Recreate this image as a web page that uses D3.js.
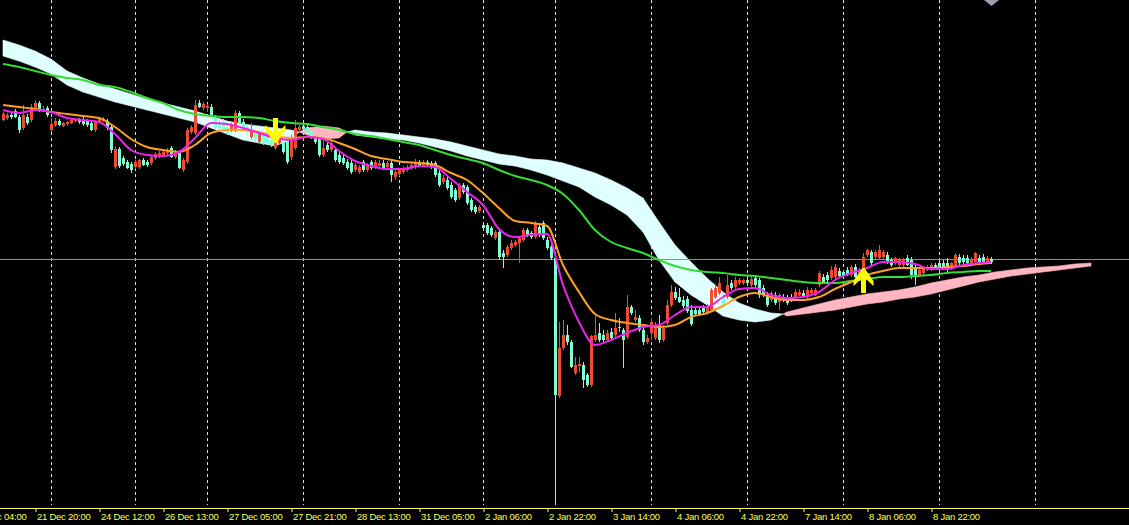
<!DOCTYPE html>
<html><head><meta charset="utf-8">
<script src="https://cdn.jsdelivr.net/npm/d3@7"></script>
<style>html,body{margin:0;padding:0;background:#000;overflow:hidden}</style>
</head><body><svg id="c" width="1129" height="525"></svg>
<script>
// ---------------- DATA (price in points) ----------------
// hourly candles [open, high, low, close], bar 0 = 21 Dec 12:00
const candles = [
[880,888,879,886],[882,887,880,885],[885,888,881,883],[889,891,882,883],[883,885,867,870],
[872,895,870,885],[883,886,875,877],[880,896,878,893],[892,900,890,897],[897,899,888,890],
[889,894,888,891],[892,894,883,885],[870,882,868,876],[875,882,873,879],[879,881,874,875],
[874,878,873,877],[876,879,874,878],[877,881,876,880],[879,881,878,880],[880,882,876,878],
[880,883,874,876],[879,881,873,875],[877,879,869,870],[870,880,868,878],[878,883,877,881],
[879,883,878,881],[879,881,870,872],[873,875,847,850],[833,854,831,851],[851,853,832,834],
[842,844,834,836],[838,840,831,832],[836,838,827,830],[833,840,831,838],[833,841,831,840],
[840,842,834,835],[838,840,833,835],[837,845,835,843],[842,848,840,846],[844,849,842,847],
[845,850,843,848],[847,852,845,850],[852,854,842,843],[843,850,841,848],[847,850,831,832],
[830,842,828,840],[838,872,836,870],[868,875,866,873],[867,900,865,895],[897,900,892,893],
[892,898,890,896],[892,896,888,894],[893,896,884,885],[882,885,870,872],[877,880,870,872],
[878,881,868,870],[872,875,865,867],[870,877,868,875],[870,890,868,887],[887,889,875,877],
[878,881,868,870],[873,875,866,868],[863,877,861,870],[867,870,858,860],[858,869,856,867],
[865,868,855,857],[863,866,855,857],[860,863,853,855],[852,861,850,858],[857,862,855,860],
[858,861,846,848],[860,862,836,838],[843,865,840,863],[852,880,850,872],[870,875,868,873],
[874,877,869,871],[873,876,865,867],[868,871,861,863],[863,866,856,858],[862,864,843,845],
[845,860,843,852],[855,857,848,850],[850,860,848,857],[850,853,838,840],[845,848,836,838],
[842,845,835,837],[838,841,830,832],[837,840,826,828],[830,837,828,835],[828,835,826,833],
[838,840,828,830],[830,837,828,835],[838,840,830,832],[833,840,831,838],[834,840,832,837],
[837,840,830,832],[833,839,831,837],[837,839,818,825],[823,830,820,828],[826,832,824,830],
[828,834,826,832],[830,835,828,833],[832,837,830,835],[833,841,831,838],[838,840,833,835],
[835,840,833,838],[838,840,833,835],[837,839,831,833],[837,839,823,825],[827,830,813,815],
[818,825,816,822],[820,823,810,812],[815,818,801,803],[810,812,798,800],[802,817,800,815],
[815,817,806,808],[813,815,795,797],[800,802,788,790],[793,795,786,788],[789,795,787,793],
[775,778,770,772],[775,777,765,767],[772,774,763,765],[762,770,760,768],[768,770,740,743],
[747,750,732,743],[745,755,743,753],[752,760,750,757],[755,760,753,758],[757,764,737,762],
[760,772,758,770],[770,772,763,765],[767,769,761,763],[763,779,761,777],[773,776,763,765],
[777,779,760,762],[760,763,750,752],[753,755,740,742],[742,744,470,605],[604,678,602,652],
[652,680,650,665],[665,675,655,658],[658,660,632,633],[627,643,625,635],[634,643,628,636],
[635,638,612,620],[625,627,613,615],[615,665,613,664],[660,685,658,665],[667,677,658,660],
[665,670,658,660],[660,670,658,667],[668,672,660,662],[665,687,663,672],[673,682,668,673],
[670,672,632,660],[663,705,661,693],[693,695,685,687],[680,690,678,683],[682,685,668,670],
[670,673,655,658],[658,665,656,662],[667,682,660,678],[662,678,660,675],[675,685,657,660],
[660,675,658,672],[677,700,675,695],[695,715,693,708],[708,713,700,702],[703,712,697,698],
[700,704,692,694],[701,704,687,689],[690,695,674,676],[690,694,684,686],[690,693,684,686],
[692,695,686,688],[687,696,685,693],[690,712,688,710],[703,716,701,712],[707,723,705,717],
[705,708,693,695],[703,725,701,715],[717,720,710,712],[713,723,711,720],[717,722,715,720],
[717,721,715,720],[720,723,714,717],[715,724,713,721],[722,725,713,715],[720,722,702,705],
[712,715,703,705],[705,708,693,695],[700,709,698,707],[705,708,695,697],[698,707,690,705],
[703,706,698,700],[702,705,695,697],[703,706,698,700],[702,711,700,708],[705,711,704,708],
[707,710,702,704],[703,713,701,710],[707,712,706,710],[705,712,704,710],[715,729,713,727],
[723,726,716,718],[725,728,718,720],[722,734,720,730],[723,736,721,733],[729,732,722,724],
[728,730,722,724],[730,733,724,725],[725,735,723,733],[733,736,722,723],[722,732,720,730],
[723,747,721,743],[745,751,743,750],[748,750,735,737],[743,750,741,748],[742,755,740,750],
[743,750,741,748],[745,748,736,738],[740,742,733,735],[737,743,735,742],[735,742,732,740],
[735,742,733,740],[742,745,734,735],[740,743,721,725],[732,735,715,723],[725,732,723,730],
[727,734,725,732],[730,735,729,733],[730,737,729,735],[735,737,730,732],[737,740,730,732],
[737,740,730,732],[737,742,728,730],[732,738,730,737],[735,747,733,745],[743,746,735,737],
[742,745,736,738],[742,745,735,737],[737,743,735,740],[738,748,736,747],[742,745,735,737],
[743,746,737,738],[738,744,736,742],[741,743,736,738]
];

// moving averages, sampled at these bars
const maBars = [0,4,8,12,16,20,24,28,32,36,40,44,48,52,56,60,64,68,72,76,80,84,88,92,96,100,
 104,108,112,116,120,124,128,132,136,140,144,148,152,156,160,164,168,172,176,180,184,188,192,
 196,200,204,208,212,216,220,224,228,232,236,240,244,247];
const maFast = [890,887,890,888,882,880,878,866,850,845,844,848,862,877,876,872,867,862,860,863,
 861,849,839,834,831,831,834,833,821,808,795,771,763,765,766,715,678,655,660,667,673,675,685,
 693,693,703,711,712,705,702,703,708,720,727,732,738,738,736,731,731,735,737,738];
const maMid = [895,893,891,888,886,884,882,873,861,853,850,848,855,867,870,870,868,864,862,863,
 862,857,851,844,841,838,837,835,827,820,807,792,779,777,774,735,708,686,680,677,675,673,675,
 683,687,694,703,707,703,700,700,703,711,718,725,729,732,732,732,733,734,736,737];
const maSlow = [936,933,929,925,922,920,915,913,908,902,897,890,886,884,883,883,882,879,877,876,
 873,870,866,864,861,858,855,850,845,841,837,830,824,820,815,806,790,770,758,752,747,740,734,
 730,728,727,725,724,722,720,718,717,717,719,721,723,723,724,725,727,728,729,729];

// Ichimoku cloud (shifted 26 bars forward)
const cloudBars = [0,4,8,12,16,20,24,28,32,36,40,44,48,52,56,60,64,68,72,74,76,80,84,86,88,92,
 96,100,104,108,112,116,120,124,128,132,136,140,144,148,152,156,160,164,168,172,176,180,184,
 188,192,195,196,200,204,208,212,216,220,224,228,232,236,240,244,248,252,256,260,264,268,272];
const spanA = [944,939,933,926,915,908,903,898,894,890,886,882,878,872,866,860,857,854,860,868,
 872,874,872,868,865,863,861,860,857,853,849,844,840,836,834,830,825,819,813,803,795,785,768,
 740,718,705,695,684,680,678,680,686,688,692,696,700,703,706,708,710,713,717,720,723,725,728,
 730,732,733,734,736,737];
const spanB = [960,955,949,941,929,922,916,911,906,901,897,893,889,884,879,876,874,872,870,868,
 865,861,862,868,870,868,867,865,863,861,858,854,850,846,844,841,840,837,832,827,820,812,802,
 778,755,738,722,708,697,691,687,686,684,686,688,690,693,696,698,701,703,706,710,714,718,721,
 724,726,728,730,732,734];

// signal arrows
const downArrows = [{bar: 68, price: 857}];
const upArrows = [{bar: 215, price: 732}];

const bidLine = 741;
const separatorBars = [12,33,51,75,99,120,138,162,186,210,234,258];
const tickBars = [-8,8,24,40,56,72,88,104,120,136,152,168,184,200,216,232];
const tickLabels = ["21 Dec 04:00","21 Dec 20:00","24 Dec 12:00","26 Dec 13:00","27 Dec 05:00",
 "27 Dec 21:00","28 Dec 13:00","31 Dec 05:00","2 Jan 06:00","2 Jan 22:00","3 Jan 14:00",
 "4 Jan 06:00","4 Jan 22:00","7 Jan 14:00","8 Jan 06:00","8 Jan 22:00"];
const lastBar = 247;

// ---------------- DRAW ----------------
const W = 1129, H = 525, plotH = 505, axisY = 508;
const svg = d3.select('#c');
svg.append('rect').attr('width', W).attr('height', H).attr('fill', '#000');
svg.append('defs').append('clipPath').attr('id', 'clip')
  .append('rect').attr('x', 0).attr('y', 0).attr('width', W).attr('height', plotH);

const x = d3.scaleLinear().domain([0, 281]).range([3, 1127]);
const y = d3.scaleLinear().domain([495, 1000]).range([plotH, 0]);

const plot = svg.append('g').attr('clip-path', 'url(#clip)');

// period separators
plot.append('g').selectAll('line').data(separatorBars).join('line')
  .attr('x1', d => x(d) + 0.5).attr('x2', d => x(d) + 0.5)
  .attr('y1', 0).attr('y2', plotH)
  .attr('stroke', '#e8e890').attr('stroke-width', 1).attr('stroke-dasharray', '3,3');

// cloud
const segs = d3.range(cloudBars.length - 1).map(i => ({i}));
const up = ({i}) => spanA[i] + spanA[i+1] >= spanB[i] + spanB[i+1];
plot.append('g').selectAll('polygon').data(segs).join('polygon')
  .attr('points', ({i}) => [
    [x(cloudBars[i]), y(spanA[i])], [x(cloudBars[i+1]), y(spanA[i+1])],
    [x(cloudBars[i+1]), y(spanB[i+1])], [x(cloudBars[i]), y(spanB[i])]
  ].map(p => p.join(',')).join(' '))
  .attr('fill', d => up(d) ? '#ffb6c1' : '#e0ffff')
  .attr('stroke', d => up(d) ? '#ffb6c1' : '#e0ffff')
  .attr('stroke-width', 0.6);

// bid line
plot.append('line').attr('x1', 0).attr('x2', W)
  .attr('y1', Math.round(y(bidLine)) + 0.5).attr('y2', Math.round(y(bidLine)) + 0.5)
  .attr('stroke', '#909090').attr('stroke-width', 1);

// candles
const BULL = '#f04a32', BEAR = '#7fffd4', DOJI = '#7cfc00';
const colorOf = d => d[3] > d[0] ? BULL : (d[3] < d[0] ? BEAR : DOJI);
const cg = plot.append('g').selectAll('g').data(candles).join('g');
cg.append('line')
  .attr('x1', (d, i) => x(i) + 0.5).attr('x2', (d, i) => x(i) + 0.5)
  .attr('y1', d => y(d[1])).attr('y2', d => y(d[2]))
  .attr('stroke', colorOf).attr('stroke-width', 1);
cg.append('rect')
  .attr('x', (d, i) => x(i) - 1).attr('width', 3)
  .attr('y', d => Math.min(y(d[0]), y(d[3])))
  .attr('height', d => Math.max(1, Math.abs(y(d[0]) - y(d[3]))))
  .attr('fill', colorOf);

// moving averages
const line = d3.line().x((d, i) => x(maBars[i])).y(d => y(d)).curve(d3.curveMonotoneX);
[[maSlow, '#33dd33'], [maMid, '#ffa020'], [maFast, '#ee22ee']].forEach(([s, col]) => {
  plot.append('path').datum(s).attr('d', line)
    .attr('fill', 'none').attr('stroke', col).attr('stroke-width', 2);
});

// arrows
const ARW = '#ffff00';
const arrowPts = (cx, t, s) => [[cx-2.5,t-25*s],[cx+2.5,t-25*s],[cx+2.5,t-11*s],[cx+10,t-18*s],
  [cx+10,t-13*s],[cx+1,t],[cx-1,t],[cx-10,t-13*s],[cx-10,t-18*s],[cx-2.5,t-11*s]]
  .map(p => p.join(',')).join(' ');
plot.append('g').selectAll('polygon').data(downArrows).join('polygon')
  .attr('points', d => arrowPts(x(d.bar) + 0.5, y(d.price), 1)).attr('fill', ARW);
plot.append('g').selectAll('polygon').data(upArrows).join('polygon')
  .attr('points', d => arrowPts(x(d.bar) + 0.5, y(d.price), -1)).attr('fill', ARW);

// chart shift marker
svg.append('polygon')
  .attr('points', [[x(lastBar)-7,0],[x(lastBar)+8,0],[x(lastBar)+0.5,6]].map(p => p.join(',')).join(' '))
  .attr('fill', '#9aa0aa');

// time axis
const AX = '#ffff55';
svg.append('line').attr('x1', 0).attr('x2', W).attr('y1', axisY + 0.5).attr('y2', axisY + 0.5)
  .attr('stroke', AX).attr('stroke-width', 1);
const axis = d3.axisBottom(x).tickValues(tickBars).tickFormat((d, i) => tickLabels[i])
  .tickSize(4).tickSizeOuter(0);
const ag = svg.append('g').attr('transform', `translate(0.5,${axisY})`).call(axis);
ag.select('.domain').remove();
ag.selectAll('.tick line').attr('stroke', AX);
ag.selectAll('.tick text').attr('fill', AX).attr('text-anchor', 'start')
  .attr('x', 1).attr('y', 5).attr('dy', '0.71em')
  .attr('font-family', 'Liberation Sans, Arial, sans-serif').attr('font-size', '9.5px')
  .attr('letter-spacing', '-0.25px');
</script></body></html>
